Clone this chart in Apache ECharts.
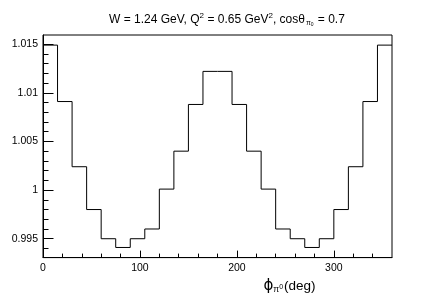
<!DOCTYPE html>
<html>
<head>
<meta charset="utf-8">
<script src="https://cdn.jsdelivr.net/npm/echarts@6/dist/echarts.min.js"></script>
<style>
html,body{margin:0;padding:0;background:#fff;}
#c{width:436px;height:299px;}
</style>
</head>
<body>
<div id="c"></div>
<script>
// Bin lower edges (deg) and bin contents
var binLow = [0, 15, 30, 45, 60, 75, 90, 105, 120, 135, 150, 165, 180, 195, 210, 225, 240, 255, 270, 285, 300, 315, 330, 345];
var binHigh = 360;
var values = [1.0149, 1.0091, 1.0024, 0.9980, 0.9950, 0.9941, 0.9950, 0.9960, 1.0001, 1.0040, 1.0088, 1.0122,
              1.0122, 1.0088, 1.0040, 1.0001, 0.9960, 0.9950, 0.9941, 0.9950, 0.9980, 1.0024, 1.0091, 1.0149];
var xMajor = [0, 100, 200, 300];
var xMinor = [20, 40, 60, 80, 120, 140, 160, 180, 220, 240, 260, 280, 320, 340];
var yMajor = [0.995, 1, 1.005, 1.01, 1.015];
var yMinor = [0.994, 0.996, 0.997, 0.998, 0.999, 1.001, 1.002, 1.003, 1.004, 1.006, 1.007, 1.008, 1.009, 1.011, 1.012, 1.013, 1.014];
var xRange = [0, 360];
var yRange = [0.99306, 1.01594];

var FONT = "'Liberation Sans', Arial, Helvetica, sans-serif";
var histData = binLow.map(function (e, i) { return [e, values[i]]; });
histData.push([binHigh, values[values.length - 1]]);

var chart = echarts.init(document.getElementById('c'), null, {renderer: 'canvas'});
var hidden = {show: false};
chart.setOption({
  animation: false,
  backgroundColor: '#fff',
  title: {
    text: 'W = 1.24 GeV, Q{sup|2} = 0.65 GeV{sup|2}, cosθ{sub|π}{sub2|0} = 0.7',
    left: 104,
    top: 7,
    textStyle: {
      fontFamily: FONT, fontSize: 12, fontWeight: 'normal', color: '#000',
      rich: {
        sup: {fontFamily: FONT, fontSize: 8, color: '#000', padding: [0, 0, 8, 0]},
        sub: {fontFamily: FONT, fontSize: 7, color: '#000', padding: [6, 0, 0, 1]},
        sub2: {fontFamily: FONT, fontSize: 5, color: '#000', padding: [10, 1, 0, 0]}
      }
    }
  },
  grid: {left: 43, right: 44, top: 35, bottom: 31, show: true, borderColor: '#000', borderWidth: 1, containLabel: false},
  xAxis: [{
    type: 'value', min: xRange[0], max: xRange[1],
    axisLine: {show: true, lineStyle: {color: '#000', width: 1}},
    splitLine: hidden,
    axisTick: {show: true, inside: true, length: 7, lineStyle: {color: '#000'}, customValues: xMajor},
    axisLabel: {show: true, margin: 5, fontFamily: FONT, fontSize: 10.5, color: '#000', customValues: xMajor},
    name: '{phi|ϕ}{sub|π}{sub2|0}{n|(deg)}',
    nameLocation: 'middle',
    nameGap: 20,
    nameTextStyle: {
      fontFamily: FONT, fontSize: 13.5, color: '#000', padding: [0, 0, 0, 144],
      rich: {
        phi: {fontFamily: 'DejaVu Sans', fontSize: 15, color: '#000'},
        sub: {fontFamily: FONT, fontSize: 8.5, color: '#000', padding: [7, 0, 0, 0]},
        sub2: {fontFamily: FONT, fontSize: 7, color: '#000', padding: [3, 1, 0, 0]},
        n: {fontFamily: FONT, fontSize: 13.5, color: '#000'}
      }
    }
  }, {
    type: 'value', min: xRange[0], max: xRange[1], position: 'bottom',
    axisLine: hidden, splitLine: hidden, axisLabel: hidden,
    axisTick: {show: true, inside: true, length: 4, lineStyle: {color: '#000'}, customValues: xMinor}
  }],
  yAxis: [{
    type: 'value', min: yRange[0], max: yRange[1],
    axisLine: {show: true, lineStyle: {color: '#000', width: 1}},
    splitLine: hidden,
    axisTick: {show: true, inside: true, length: 10.5, lineStyle: {color: '#000'}, customValues: yMajor},
    axisLabel: {show: true, margin: 5, fontFamily: FONT, fontSize: 10.5, color: '#000', customValues: yMajor}
  }, {
    type: 'value', min: yRange[0], max: yRange[1], position: 'left',
    axisLine: hidden, splitLine: hidden, axisLabel: hidden,
    axisTick: {show: true, inside: true, length: 5.5, lineStyle: {color: '#000'}, customValues: yMinor}
  }],
  series: [{
    type: 'line',
    xAxisIndex: 0, yAxisIndex: 0,
    step: 'end',
    symbol: 'none',
    data: histData,
    lineStyle: {color: '#000', width: 1},
    silent: true
  }]
});
</script>
</body>
</html>
